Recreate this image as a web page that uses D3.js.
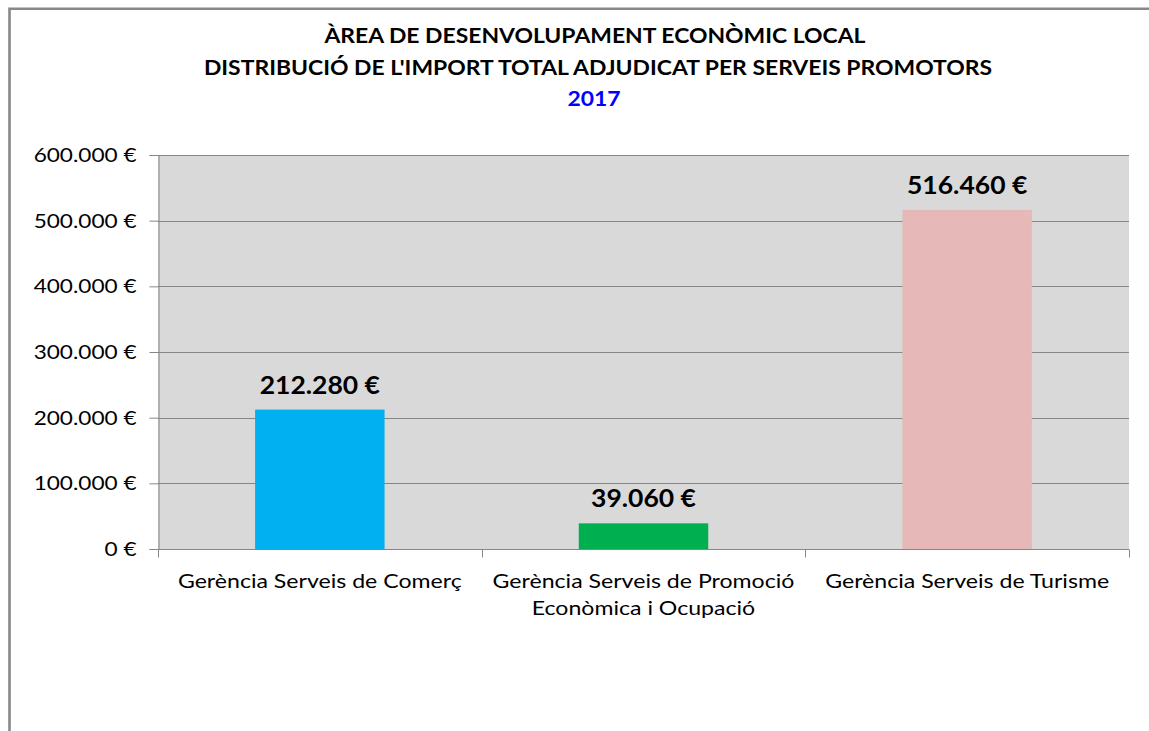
<!DOCTYPE html>
<html>
<head>
<meta charset="utf-8">
<script src="https://cdn.jsdelivr.net/npm/d3@7"></script>
<style>
  body { margin: 0; background: #fff; }
  svg { display: block; }
  text { font-family: Lato, "Open Sans", sans-serif; }
</style>
</head>
<body>
<script>
// Data
const categories = [
  ["Gerència Serveis de Comerç"],
  ["Gerència Serveis de Promoció", "Econòmica i Ocupació"],
  ["Gerència Serveis de Turisme"]
];
const values = [212280, 39060, 516460];
const barColors = ["#00b0f0", "#00b050", "#e6b8b7"];
const yTicks = [0, 100000, 200000, 300000, 400000, 500000, 600000];
const titleLines = ["ÀREA DE DESENVOLUPAMENT ECONÒMIC LOCAL",
                    "DISTRIBUCIÓ DE L'IMPORT TOTAL ADJUDICAT PER SERVEIS PROMOTORS"];
const titleYear = "2017";

const W = 1149, H = 731;
const plot = { left: 158, right: 1129, top: 155, bottom: 549 };

// thousands with dot, like Excel in catalan
const fmt = v => d3.format(",")(v).replace(/,/g, ".") + " €";

// the original font is wider than Lato: stretch text horizontally
function stretch(sel, k) {
    sel.each(function() {
        let len = this.getComputedTextLength();
        d3.select(this)
            .attr("textLength", len * k)
            .attr("lengthAdjust", "spacingAndGlyphs");
    });
}

let svg = d3.select("body").append("svg")
    .attr("width", W)
    .attr("height", H);

// chart frame (clipped on right and bottom)
svg.append("path")
    .attr("d", `M9.5,${H} V8.7 H${W}`)
    .attr("fill", "none")
    .attr("stroke", "#888")
    .attr("stroke-width", 2.6);

// title
let title = svg.append("g").attr("font-weight", "bold").attr("text-anchor", "middle");
title.append("text").attr("x", 595).attr("y", 43).attr("font-size", 20).text(titleLines[0]);
title.append("text").attr("x", 598).attr("y", 75).attr("font-size", 20).text(titleLines[1]);
title.append("text").attr("x", 594).attr("y", 106).attr("font-size", 20)
    .attr("fill", "#0000ff").text(titleYear);
stretch(title.selectAll("text"), 1.145);

// scales
let x = d3.scaleBand()
    .domain(d3.range(values.length))
    .range([plot.left, plot.right])
    .padding(0);

let y = d3.scaleLinear()
    .domain([0, 600000])
    .range([plot.bottom, plot.top]);

const barW = x.bandwidth() * 0.4;

// plot background
svg.append("rect")
    .attr("x", plot.left)
    .attr("y", plot.top)
    .attr("width", plot.right - plot.left)
    .attr("height", plot.bottom - plot.top)
    .attr("fill", "#d9d9d9");

// gridlines
svg.append("g")
    .selectAll("line")
    .data(yTicks.filter(d => d > 0))
    .enter().append("line")
    .attr("x1", plot.left)
    .attr("x2", plot.right)
    .attr("y1", d => Math.round(y(d)) + 0.5)
    .attr("y2", d => Math.round(y(d)) + 0.5)
    .attr("stroke", "#868686")
    .attr("stroke-width", 1);

// bars
svg.append("g")
    .selectAll("rect")
    .data(values)
    .enter().append("rect")
    .attr("x", (d, i) => x(i) + (x.bandwidth() - barW) / 2)
    .attr("y", d => y(d))
    .attr("width", barW)
    .attr("height", d => y(0) - y(d))
    .attr("fill", (d, i) => barColors[i]);

// y axis
let yAxis = svg.append("g")
    .attr("transform", `translate(${plot.left + 0.5},0)`)
    .call(d3.axisLeft(y).tickValues(yTicks).tickSize(9).tickPadding(13).tickFormat(fmt));
yAxis.select(".domain").attr("stroke", "#868686");
yAxis.selectAll(".tick line").attr("stroke", "#868686");
yAxis.selectAll(".tick text")
    .attr("font-family", "Lato, sans-serif")
    .attr("font-size", 20)
    .attr("fill", "#000")
    .attr("dy", "0.33em");
stretch(yAxis.selectAll(".tick text"), 1.13);

// x axis: ticks at band boundaries
let xAxisG = svg.append("g")
    .attr("transform", `translate(0,${plot.bottom + 0.5})`);
xAxisG.append("line")
    .attr("x1", plot.left).attr("x2", plot.right)
    .attr("stroke", "#868686");
let bounds = d3.range(values.length).map(i => x(i)).concat([plot.right]);
xAxisG.selectAll("line.tk")
    .data(bounds)
    .enter().append("line")
    .attr("class", "tk")
    .attr("x1", d => Math.round(d) + 0.5)
    .attr("x2", d => Math.round(d) + 0.5)
    .attr("y1", 0)
    .attr("y2", 8)
    .attr("stroke", "#868686");

// category labels
let catLabels = svg.append("g")
    .selectAll("text")
    .data(categories)
    .enter().append("text")
    .attr("text-anchor", "middle")
    .attr("font-size", 20)
    .attr("fill", "#000");
catLabels.each(function(lines, i) {
    d3.select(this).selectAll("tspan")
        .data(lines)
        .enter().append("tspan")
        .attr("x", x(i) + x.bandwidth() / 2)
        .attr("y", (d, j) => 588 + j * 27)
        .text(d => d);
});
stretch(catLabels.selectAll("tspan"), 1.155);

// data labels
let dataLabels = svg.append("g")
    .selectAll("text")
    .data(values)
    .enter().append("text")
    .attr("x", (d, i) => x(i) + x.bandwidth() / 2)
    .attr("y", d => y(d) - 16)
    .attr("text-anchor", "middle")
    .attr("font-weight", "bold")
    .attr("font-size", 25)
    .attr("fill", "#000")
    .text(fmt);
stretch(dataLabels, 1.06);
</script>
</body>
</html>
